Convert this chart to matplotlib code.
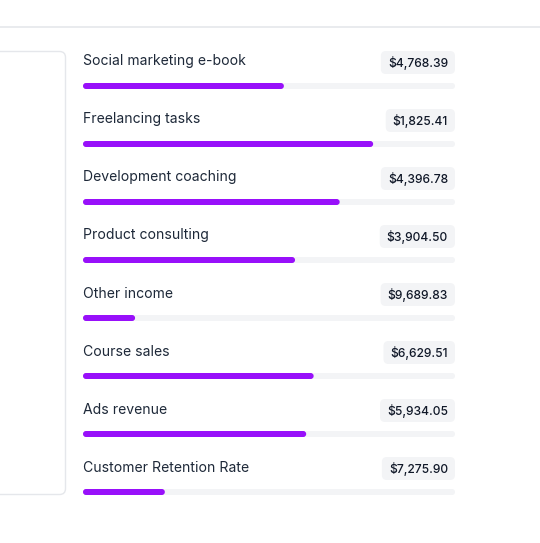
import matplotlib.pyplot as plt
from matplotlib.patches import FancyBboxPatch

# Data
categories = ["Social marketing e-book", "Freelancing tasks", "Development coaching",
              "Product consulting", "Other income", "Course sales", "Ads revenue",
              "Customer Retention Rate"]
amounts = ["$4,768.39", "$1,825.41", "$4,396.78", "$3,904.50",
           "$9,689.83", "$6,629.51", "$5,934.05", "$7,275.90"]
progress = [54, 78, 69, 57, 14, 62, 60, 22]

plt.rcParams['font.family'] = ['Inter', 'DejaVu Sans']

W, H = 540, 543
fig = plt.figure(figsize=(W / 100, H / 100), dpi=100)
ax = fig.add_axes([0, 0, 1, 1])
ax.set_xlim(0, W)
ax.set_ylim(H, 0)
ax.axis("off")

# Header divider
ax.plot([0, W], [26.5, 26.5], color="#e5e7eb", lw=1.2)

# Left card edge
card = FancyBboxPatch((-20, 51.5), 85.5, 443, boxstyle="round,pad=0,rounding_size=6",
                      fc="white", ec="#e5e7eb", lw=1)
ax.add_patch(card)

x0, x1 = 83, 455
row_gap = 58
fig.canvas.draw()
renderer = fig.canvas.get_renderer()
inv = ax.transData.inverted()

for i, (name, amt, pct) in enumerate(zip(categories, amounts, progress)):
    y = 61.5 + row_gap * i
    ax.text(x0, y, name, fontsize=10.1, color="#1e2939", va="center", ha="left")

    # value badge
    t = ax.text(x1 - 7, y + 1.5, amt, fontsize=8.7, color="#101828", va="center",
                ha="right", fontweight="medium", zorder=3)
    bb = t.get_window_extent(renderer)
    (bx0, _), (bx1, _) = inv.transform([[bb.x0, bb.y0], [bb.x1, bb.y1]])
    badge = FancyBboxPatch((bx0 - 7, y - 10.5), (x1 - bx0) + 7, 23,
                           boxstyle="round,pad=0,rounding_size=5",
                           fc="#f3f4f6", ec="none", zorder=2)
    ax.add_patch(badge)

    # progress track + fill
    by = 86 + row_gap * i
    track = FancyBboxPatch((x0, by - 3), x1 - x0, 6, boxstyle="round,pad=0,rounding_size=3",
                           fc="#f3f4f6", ec="none", zorder=2)
    ax.add_patch(track)
    fill = FancyBboxPatch((x0, by - 3), (x1 - x0) * pct / 100, 6,
                          boxstyle="round,pad=0,rounding_size=3",
                          fc="#9810fa", ec="none", zorder=3)
    ax.add_patch(fill)

fig.savefig("out.png", dpi=100, facecolor="white")
